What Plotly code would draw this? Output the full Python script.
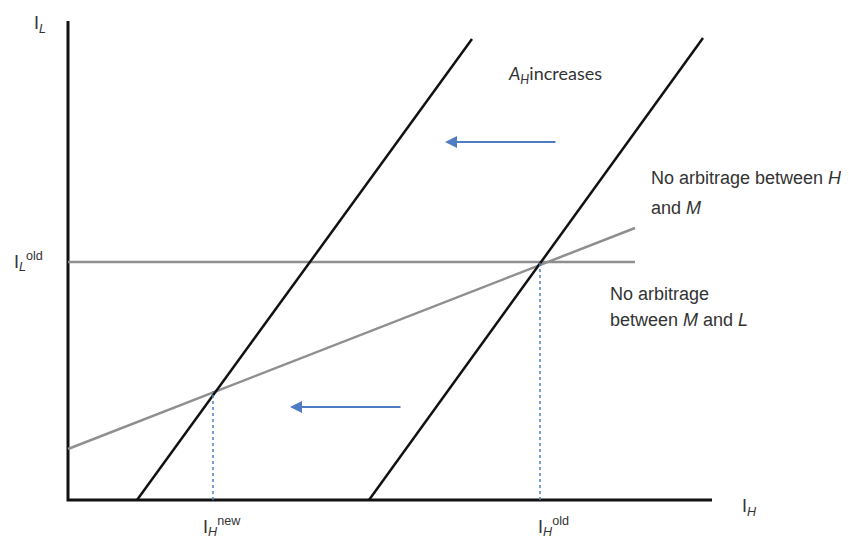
import plotly.graph_objects as go

# Data (abstract units: I_H on x, I_L on y)
axis_x_end = 64.4
axis_y_end = 47.9
line_old_x = [30.1, 63.5]      # no-arbitrage H/M, old A_H
line_old_y = [0.0, 46.2]
line_new_x = [6.9, 40.4]       # after A_H increases
line_new_y = [0.0, 46.1]
flat_x = [0.0, 56.7]           # no arbitrage M/L (horizontal)
flat_y = [23.8, 23.8]
slope_x = [0.0, 56.7]          # no arbitrage M/L (sloped)
slope_y = [5.1, 27.2]
ih_new = 14.5
il_new = 10.9
ih_old = 47.2
il_old = 23.8
arrow_top = {"tail": (48.9, 35.8), "head": (37.7, 35.8)}
arrow_bot = {"tail": (33.4, 9.3), "head": (22.2, 9.3)}

BLACK = "#111111"
GRAY = "#8f8f8f"
BLUE = "#4f7dc4"
TXT = "#333333"

fig = go.Figure()

# axes
fig.add_trace(go.Scatter(x=[0, 0, axis_x_end], y=[axis_y_end, 0, 0], mode="lines",
                         line=dict(color=BLACK, width=3), hoverinfo="skip"))
# gray lines
fig.add_trace(go.Scatter(x=flat_x, y=flat_y, mode="lines",
                         line=dict(color=GRAY, width=2.5), hoverinfo="skip"))
fig.add_trace(go.Scatter(x=slope_x, y=slope_y, mode="lines",
                         line=dict(color=GRAY, width=2.5), hoverinfo="skip"))
# black lines
fig.add_trace(go.Scatter(x=line_new_x, y=line_new_y, mode="lines",
                         line=dict(color=BLACK, width=2.5), hoverinfo="skip"))
fig.add_trace(go.Scatter(x=line_old_x, y=line_old_y, mode="lines",
                         line=dict(color=BLACK, width=2.5), hoverinfo="skip"))
# dotted drops
fig.add_trace(go.Scatter(x=[ih_new, ih_new], y=[0, il_new], mode="lines",
                         line=dict(color=BLUE, width=1.5, dash="dot"), hoverinfo="skip"))
fig.add_trace(go.Scatter(x=[ih_old, ih_old], y=[0, il_old], mode="lines",
                         line=dict(color=BLUE, width=1.5, dash="dot"), hoverinfo="skip"))

font = dict(family="Liberation Sans, Arial", size=18, color=TXT)
font_c = dict(family="Lato, Open Sans", size=18, color=TXT)

def txt(x, y, s, f=font, xa="left", ya="middle"):
    fig.add_annotation(x=x, y=y, xref="x", yref="y", text=s, showarrow=False,
                       xanchor=xa, yanchor=ya, font=f, align="left")

txt(-3.6, 47.6, "I<sub><i>L</i></sub>")
txt(-5.6, 23.9, "I<sub><i>L</i></sub><sup>old</sup>")
txt(13.3, -2.6, "I<sub><i>H</i></sub><sup>new</sup>")
txt(46.8, -2.6, "I<sub><i>H</i></sub><sup>old</sup>")
txt(67.2, -0.7, "I<sub><i>H</i></sub>")
txt(43.8, 42.6, "<i>A<sub>H</sub></i>increases", f=font_c)
txt(58.1, 32.2, "No arbitrage between <i>H</i>")
txt(58.1, 29.2, "and <i>M</i>")
txt(54.0, 20.6, "No arbitrage")
txt(54.0, 18.0, "between <i>M</i> and <i>L</i>")

for a in (arrow_top, arrow_bot):
    fig.add_annotation(x=a["head"][0], y=a["head"][1], ax=a["tail"][0], ay=a["tail"][1],
                       xref="x", yref="y", axref="x", ayref="y", text="",
                       showarrow=True, arrowhead=2, arrowsize=1.2, arrowwidth=2,
                       arrowcolor=BLUE)

fig.update_layout(
    width=849, height=546, margin=dict(l=0, r=0, t=0, b=0),
    paper_bgcolor="white", plot_bgcolor="white", showlegend=False,
    xaxis=dict(range=[-6.0, 78.9], visible=False, fixedrange=True),
    yaxis=dict(range=[-5.4, 49.2], visible=False, fixedrange=True),
)
fig.write_html("out.html")
